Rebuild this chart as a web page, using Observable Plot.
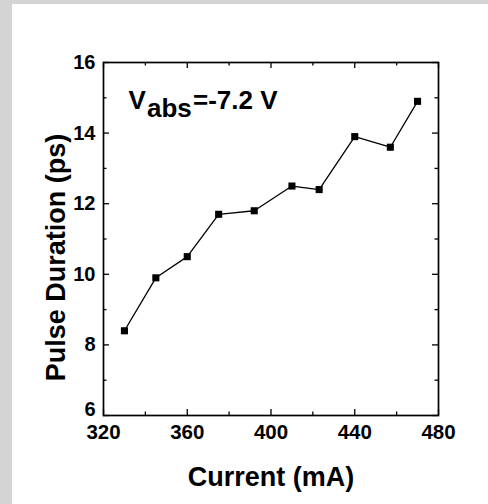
<!DOCTYPE html>
<html><head><meta charset="utf-8">
<script src="https://cdn.jsdelivr.net/npm/d3@7"></script>
<script src="https://cdn.jsdelivr.net/npm/@observablehq/plot@0.6"></script>
<style>
html,body{margin:0;padding:0;background:#fff;}
#wrap{width:488px;height:504px;background:#d4d4d4;position:relative;overflow:hidden;}
#chart{position:absolute;left:12px;top:4px;width:476px;height:500px;background:#fff;}
</style></head><body><div id="wrap"><div id="chart"></div></div>
<script>
const current = [330, 345, 360, 375, 392, 410, 423, 440, 457, 470];
const duration = [8.4, 9.9, 10.5, 11.7, 11.8, 12.5, 12.4, 13.9, 13.6, 14.9];
const xMajor = [320, 360, 400, 440, 480];
const xMinor = [340, 380, 420, 460];
const yMajor = [6, 8, 10, 12, 14, 16];
const yMinor = [7, 9, 11, 13, 15];
const xTitle = "Current (mA)";
const yTitle = "Pulse Duration (ps)";
const annV = "V", annSub = "abs", annRest = "=-7.2 V";

const rows = current.map((c, i) => ({c, d: duration[i]}));
const W = 476, H = 500, ML = 91, MR = 50, MT = 58, MB = 89;
const IW = W - ML - MR, IH = H - MT - MB;
const font = 27;
const tk = {stroke: "black", strokeWidth: 1.3};

const chart = Plot.plot({
  width: W, height: H,
  marginLeft: ML, marginRight: MR, marginTop: MT, marginBottom: MB,
  style: {fontFamily: "'Liberation Sans', Arial, sans-serif", fontWeight: "bold", color: "black", background: "white", overflow: "visible"},
  x: {domain: [320, 480], label: null},
  y: {domain: [6, 16], label: null},
  marks: [
    Plot.tickX(xMajor, {x: d => d, insetTop: IH - 6, ...tk}),
    Plot.tickX(xMajor, {x: d => d, insetBottom: IH - 6, ...tk}),
    Plot.tickX(xMinor, {x: d => d, insetTop: IH - 3.5, ...tk}),
    Plot.tickX(xMinor, {x: d => d, insetBottom: IH - 3.5, ...tk}),
    Plot.tickY(yMajor, {y: d => d, insetRight: IW - 6, ...tk}),
    Plot.tickY(yMajor, {y: d => d, insetLeft: IW - 6, ...tk}),
    Plot.tickY(yMinor, {y: d => d, insetRight: IW - 3.5, ...tk}),
    Plot.tickY(yMinor, {y: d => d, insetLeft: IW - 3.5, ...tk}),
    Plot.frame({stroke: "black", strokeWidth: 1.7}),
    Plot.axisX(xMajor, {tickSize: 0, tickPadding: 9, fontSize: 20.5, fontWeight: "bold", label: null}),
    Plot.axisY(yMajor.slice(1), {tickSize: 0, tickPadding: 8, fontSize: 20, fontWeight: "bold", label: null}),
    Plot.axisY(yMajor.slice(0, 1), {tickSize: 0, tickPadding: 8, dy: -6, fontSize: 20, fontWeight: "bold", label: null}),
    Plot.line(rows, {x: "c", y: "d", stroke: "black", strokeWidth: 1.3}),
    Plot.dot(rows, {x: "c", y: "d", symbol: "square", r: 4, fill: "black", stroke: "none"}),
    Plot.text([xTitle], {text: d => d, frameAnchor: "bottom", dy: 62, lineAnchor: "middle", fontSize: font, fontWeight: "bold", fill: "black"}),
    Plot.text([yTitle], {text: d => d, frameAnchor: "left", textAnchor: "middle", rotate: -90, dx: -47, dy: 18.5, lineAnchor: "middle", fontSize: font, fontWeight: "bold", fill: "black"}),
    Plot.text([annV], {text: d => d, frameAnchor: "top-left", textAnchor: "start", lineAnchor: "middle", dx: 25, dy: 38, fontSize: 26, fontWeight: "bold", fill: "black"}),
    Plot.text([annSub], {text: d => d, frameAnchor: "top-left", textAnchor: "start", lineAnchor: "middle", dx: 43.5, dy: 46.4, fontSize: 26, fontWeight: "bold", fill: "black"}),
    Plot.text([annRest], {text: d => d, frameAnchor: "top-left", textAnchor: "start", lineAnchor: "middle", dx: 89.5, dy: 38, fontSize: 26, fontWeight: "bold", fill: "black"})
  ]
});
document.getElementById("chart").appendChild(chart);
</script>
</body></html>
